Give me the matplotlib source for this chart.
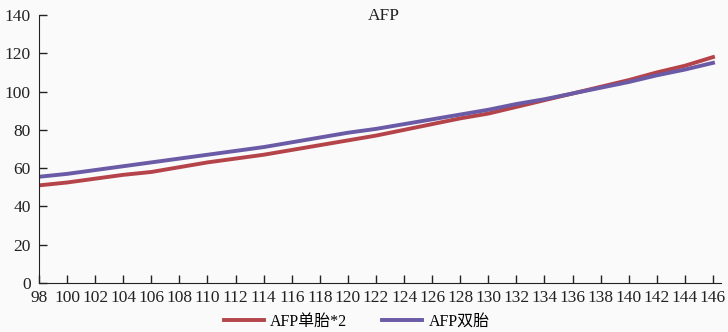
import matplotlib.pyplot as plt

plt.rcParams['font.family'] = ['Liberation Serif', 'Noto Sans CJK SC']

# 孕周 (x) 与两条曲线
weeks = [98, 100, 102, 104, 106, 108, 110, 112, 114, 116, 118, 120, 122,
         124, 126, 128, 130, 132, 134, 136, 138, 140, 142, 144, 146]
afp_single_x2 = [51, 52.5, 54.5, 56.5, 58, 60.5, 63, 65, 67, 69.5, 72, 74.5, 77,
                 80, 83, 86, 88.5, 92, 95.5, 99, 102.5, 106, 110, 113.5, 118]
afp_twin = [55.5, 57, 59, 61, 63, 65, 67, 69, 71, 73.5, 76, 78.5, 80.5,
            83, 85.5, 88, 90.5, 93.5, 96, 99, 102, 105, 108.5, 111.5, 115]

fig = plt.figure(figsize=(7.28, 3.32), dpi=100, facecolor='#fafafa')
ax = fig.add_axes([39/728, 49/332, 682/728, 268/332], facecolor='#fafafa')

ax.plot(weeks, afp_single_x2, color='#b5444a', linewidth=2.8, label='AFP单胎*2')
ax.plot(weeks, afp_twin, color='#6b5aa6', linewidth=2.8, label='AFP双胎')

ax.set_xlim(98, 146.57)
ax.set_ylim(0, 140)
ax.set_xticks(range(98, 147, 2))
ax.set_yticks(range(0, 141, 20))
ax.tick_params(direction='in', length=6, width=1, labelsize=12.5, colors='#222222', pad=5)
ax.tick_params(axis='y', pad=6)
for side in ['top', 'right']:
    ax.spines[side].set_visible(False)
for side in ['left', 'bottom']:
    ax.spines[side].set_color('#222222')

ax.text(0.505, 1.025, 'AFP', transform=ax.transAxes, ha='center', va='top',
        fontsize=12.5, color='#222222')

fig.legend(loc='center', bbox_to_anchor=(0.49, 0.03), ncol=2, frameon=False,
           fontsize=11.5, handlelength=2.5, columnspacing=2.2, handletextpad=0.4)

plt.savefig('out.png', dpi=100, facecolor=fig.get_facecolor())
